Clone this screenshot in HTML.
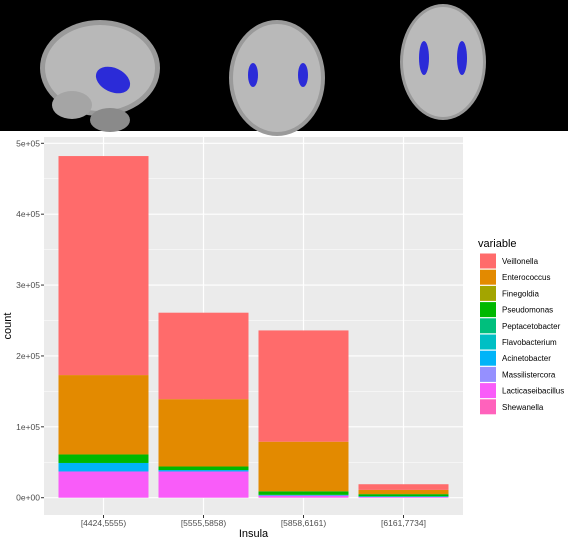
<!DOCTYPE html>
<html><head><meta charset="utf-8"><style>
body{margin:0;background:#fff;font-family:"Liberation Sans",sans-serif;}
svg{display:block}
</style></head><body>
<svg width="568" height="540">
<g>
<rect x="0" y="0" width="568" height="131" fill="#000"/>
<g>
<ellipse cx="100" cy="68" rx="60" ry="48" fill="#9a9a9a"/>
<ellipse cx="100" cy="68" rx="55" ry="43" fill="#b8b8b8"/>
<ellipse cx="72" cy="105" rx="20" ry="14" fill="#a5a5a5"/>
<ellipse cx="110" cy="120" rx="20" ry="12" fill="#8a8a8a"/>
<ellipse cx="113" cy="80" rx="18" ry="12" fill="#2b2bd8" transform="rotate(25 113 80)"/>
</g>
<g>
<ellipse cx="277" cy="78" rx="48" ry="58" fill="#9a9a9a"/>
<ellipse cx="277" cy="78" rx="44" ry="54" fill="#b9b9b9"/>
<ellipse cx="253" cy="75" rx="5" ry="12" fill="#2b2bd8"/>
<ellipse cx="303" cy="75" rx="5" ry="12" fill="#2b2bd8"/>
</g>
<g>
<ellipse cx="443" cy="62" rx="43" ry="58" fill="#9a9a9a"/>
<ellipse cx="443" cy="62" rx="40" ry="55" fill="#bababa"/>
<ellipse cx="424" cy="58" rx="5" ry="17" fill="#2b2bd8"/>
<ellipse cx="462" cy="58" rx="5" ry="17" fill="#2b2bd8"/>
</g>
</g>
<g id="chart"></g>
</svg>
<script>
const categories=["[4424,5555)","[5555,5858)","[5858,6161)","[6161,7734]"];
const variables=["Veillonella","Enterococcus","Finegoldia","Pseudomonas","Peptacetobacter","Flavobacterium","Acinetobacter","Massilistercora","Lacticaseibacillus","Shewanella"];
const colors=["#FF6B6B","#E38A00","#A3A500","#00B800","#00BF7D","#00BFC4","#00B4F8","#9590FF","#F95CF9","#FF62BC"];
const veillonella=[309000,122000,157000,8000];
const enterococcus=[112000,95000,70000,6000];
const finegoldia=[0,0,0,0];
const pseudomonas=[12000,5000,5000,3000];
const peptacetobacter=[0,0,0,0];
const flavobacterium=[0,0,0,0];
const acinetobacter=[12000,2000,1000,1000];
const massilistercora=[0,0,0,0];
const lacticaseibacillus=[37000,37000,3000,1000];
const shewanella=[0,0,0,0];
const series=[veillonella,enterococcus,finegoldia,pseudomonas,peptacetobacter,flavobacterium,acinetobacter,massilistercora,lacticaseibacillus,shewanella];
const yTicks=[0,100000,200000,300000,400000,500000];
const yTickLabels=["0e+00","1e+05","2e+05","3e+05","4e+05","5e+05"];

const NS="http://www.w3.org/2000/svg";
const g=document.getElementById('chart');
const P={l:44,r:463,t:137,b:515};
const y0=497.7,pxPer=354.4/500000;
const y=v=>y0-v*pxPer;
const band=100,bw=90;
const xc=i=>103.5+i*band;
function el(t,a,p){const e=document.createElementNS(NS,t);for(const k in a)e.setAttribute(k,a[k]);(p||g).appendChild(e);return e;}
const panel=el('rect',{x:P.l,y:P.t,width:P.r-P.l,height:P.b-P.t,fill:'#EBEBEB'});


for(let i=0;i<yTicks.length-1;i++){
  const m=(yTicks[i]+yTicks[i+1])/2;
  const l=el('line',{x1:P.l,x2:P.r,y1:y(m),y2:y(m),stroke:'#fff','stroke-width':0.6});
  
  
}
yTicks.forEach((t,i)=>{
  const l=el('line',{x1:P.l,x2:P.r,y1:y(t),y2:y(t),stroke:'#fff','stroke-width':1.2});
  
  
  const tk=el('line',{x1:P.l-3,x2:P.l,y1:y(t),y2:y(t),stroke:'#333'});
  
  
  const tx=el('text',{x:P.l-4,y:y(t)+3,'text-anchor':'end','font-size':8.5,fill:'#4D4D4D'});
  tx.textContent=yTickLabels[i];
  
  
});
categories.forEach((c,i)=>{
  const l=el('line',{x1:xc(i),x2:xc(i),y1:P.t,y2:P.b,stroke:'#fff','stroke-width':1.2});
  
  
  const tk=el('line',{x1:xc(i),x2:xc(i),y1:P.b,y2:P.b+3,stroke:'#333'});
  
  
  const tx=el('text',{x:xc(i),y:P.b+11,'text-anchor':'middle','font-size':8.5,fill:'#4D4D4D'});
  tx.textContent=c;
  
  
  let cum=0;
  for(let s=series.length-1;s>=0;s--){
    const v=series[s][i];
    if(v<=0)continue;
    const r=el('rect',{x:xc(i)-bw/2,y:y(cum+v),width:bw,height:y(cum)-y(cum+v),fill:colors[s]});
    
    
    cum+=v;
  }
});
const xt=el('text',{x:(P.l+P.r)/2,y:537,'text-anchor':'middle','font-size':11,fill:'#000'});
xt.textContent='Insula';


const yt=el('text',{x:0,y:0,'text-anchor':'middle','font-size':11,fill:'#000',transform:'translate(11,326) rotate(-90)'});
yt.textContent='count';


const lt=el('text',{x:478,y:247,'font-size':11,fill:'#000'});
lt.textContent='variable';


variables.forEach((v,i)=>{
  const cy=261+i*16.2;
  const r=el('rect',{x:480,y:cy-7.5,width:16,height:15,fill:colors[i]});
  
  
  const t=el('text',{x:502,y:cy+3,'font-size':8,fill:'#000'});
  t.textContent=v;
  
  
});
</script>
</body></html>
